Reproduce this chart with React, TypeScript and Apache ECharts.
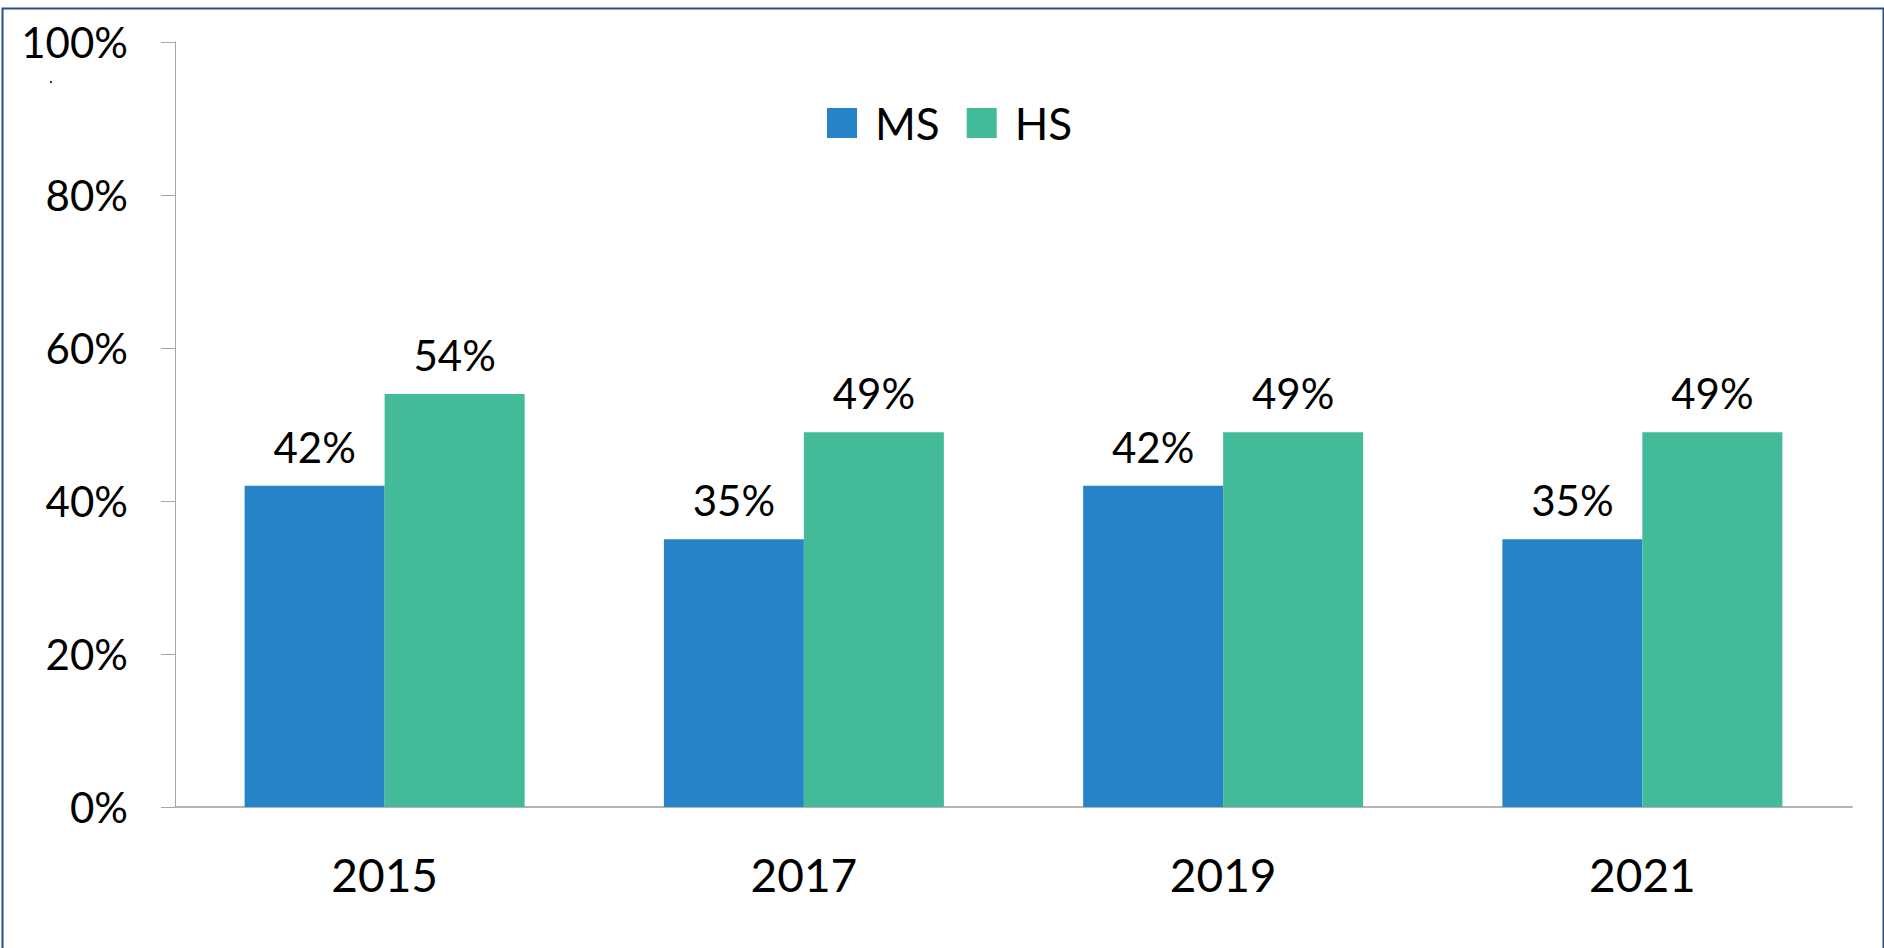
import React, { useEffect, useRef } from "react";
import * as echarts from "echarts";

const categories = ["2015", "2017", "2019", "2021"];
const msValues = [42, 35, 42, 35];
const hsValues = [54, 49, 49, 49];
const seriesNames = ["MS", "HS"];
const yTicks = { min: 0, max: 100, interval: 20 };

const FONT = "Lato, 'Noto Sans', sans-serif";

export default function App() {
  const ref = useRef<HTMLDivElement>(null);
  useEffect(() => {
    document.body.style.margin = "0";
    const chart = echarts.init(ref.current!, undefined, { renderer: "svg" });
    chart.setOption({
      animation: false,
      backgroundColor: "#ffffff",
      textStyle: { fontFamily: FONT },
      grid: { left: 175, right: 32, top: 42, bottom: 141, containLabel: false },
      legend: {
        data: seriesNames,
        left: 827,
        top: 101,
        padding: 0,
        itemWidth: 30,
        itemHeight: 30,
        itemGap: 27,
        icon: "rect",
        textStyle: { fontSize: 44, color: "#000", fontFamily: FONT, padding: [0, 0, 0, 13] },
      },
      xAxis: {
        type: "category",
        data: categories,
        axisLine: { lineStyle: { color: "#b4b4b4", width: 2 } },
        axisTick: { show: false },
        axisLabel: { color: "#000", fontSize: 46, margin: 44, fontFamily: FONT },
      },
      yAxis: {
        type: "value",
        min: yTicks.min,
        max: yTicks.max,
        interval: yTicks.interval,
        splitLine: { show: false },
        axisLine: { show: true, lineStyle: { color: "#a6a6a6", width: 1 } },
        axisTick: { show: true, length: 14, lineStyle: { color: "#a6a6a6" } },
        axisLabel: { color: "#000", fontSize: 42, margin: 47, formatter: "{value}%", fontFamily: FONT },
      },
      series: [
        {
          name: seriesNames[0],
          type: "bar",
          data: msValues,
          barWidth: 140,
          barGap: "0%",
          itemStyle: { color: "#2783C7" },
          label: { show: true, position: "top", distance: 18, formatter: "{c}%", fontSize: 42, color: "#000", fontFamily: FONT },
        },
        {
          name: seriesNames[1],
          type: "bar",
          data: hsValues,
          barWidth: 140,
          barGap: "0%",
          itemStyle: { color: "#44BB98" },
          label: { show: true, position: "top", distance: 18, formatter: "{c}%", fontSize: 42, color: "#000", fontFamily: FONT },
        },
      ],
      graphic: [
        {
          type: "rect",
          left: 0,
          top: 6,
          shape: { x: 0, y: 0, width: 1881, height: 1000 },
          style: { fill: "none", stroke: "#2b4c8c", lineWidth: 2 },
          silent: true,
        },
        {
          type: "circle",
          shape: { cx: 51, cy: 82, r: 1.2 },
          style: { fill: "#333" },
          silent: true,
        },
      ],
    });
    return () => chart.dispose();
  }, []);
  return <div ref={ref} style={{ width: 1884, height: 948 }} />;
}
